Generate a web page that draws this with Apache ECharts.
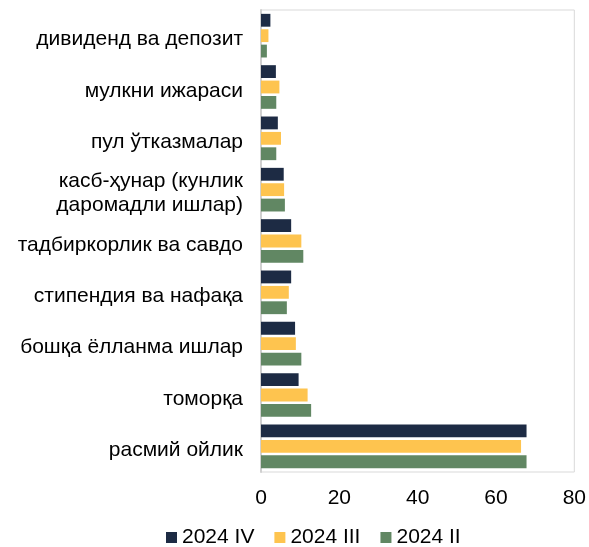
<!DOCTYPE html>
<html>
<head>
<meta charset="utf-8">
<script src="https://cdn.jsdelivr.net/npm/echarts@6/dist/echarts.min.js"></script>
<style>
html, body { margin: 0; padding: 0; background: #fff; }
#chart { width: 589px; height: 547px; }
</style>
</head>
<body>
<div id="chart"></div>
<script>
// categories from bottom to top
var categories = [
  'расмий ойлик',
  'томорқа',
  'бошқа ёлланма ишлар',
  'стипендия ва нафақа',
  'тадбиркорлик ва савдо',
  'касб-ҳунар (кунлик\nдаромадли ишлар)',
  'пул ўтказмалар',
  'мулкни ижараси',
  'дивиденд ва депозит'
];
var q4 = [67.8, 9.6, 8.7, 7.7, 7.7, 5.8, 4.3, 3.8, 2.4];
var q3 = [66.4, 11.9, 8.9, 7.1, 10.3, 5.9, 5.1, 4.7, 1.9];
var q2 = [67.8, 12.8, 10.3, 6.6, 10.8, 6.1, 3.9, 3.9, 1.5];
var xTicks = [0, 20, 40, 60, 80];

var font = 'Liberation Sans, Arial, sans-serif';

var chart = echarts.init(document.getElementById('chart'));
chart.setOption({
  animation: false,
  textStyle: { fontFamily: font },
  grid: {
    left: 261, right: 13, top: 10, bottom: 75,
    show: true, borderColor: '#d9d9d9', borderWidth: 1
  },
  legend: {
    top: 522,
    left: 161,
    data: ['2024 IV', '2024 III', '2024 II'],
    itemWidth: 11,
    itemHeight: 11,
    itemGap: 20,
    icon: 'rect',
    textStyle: { fontSize: 21, color: '#000', fontFamily: font }
  },
  xAxis: {
    type: 'value',
    min: xTicks[0],
    max: xTicks[xTicks.length - 1],
    interval: 20,
    splitLine: { show: false },
    axisLine: { show: false },
    axisTick: { show: false },
    axisLabel: { fontSize: 21, color: '#000', margin: 16, fontFamily: font }
  },
  yAxis: {
    type: 'category',
    data: categories,
    axisLine: { show: true, lineStyle: { color: '#d0d0d0', width: 2 } },
    axisTick: { show: false },
    axisLabel: {
      fontSize: 21, color: '#000', margin: 18, fontFamily: font,
      // small spacer line on top nudges the text a few px down
      formatter: function (v) {
        return '{s| }\n' + v.split('\n').map(function (l) { return '{a|' + l + '}'; }).join('\n');
      },
      rich: {
        s: { fontSize: 1, lineHeight: 8 },
        a: { fontSize: 21, lineHeight: 24, color: '#000', fontFamily: font }
      }
    }
  },
  series: [
    { name: '2024 IV', type: 'bar', data: q4, itemStyle: { color: '#1d2b44' }, barGap: '20%', barCategoryGap: '15%' },
    { name: '2024 III', type: 'bar', data: q3, itemStyle: { color: '#fec44f' } },
    { name: '2024 II', type: 'bar', data: q2, itemStyle: { color: '#618763' } }
  ]
});
</script>
</body>
</html>
